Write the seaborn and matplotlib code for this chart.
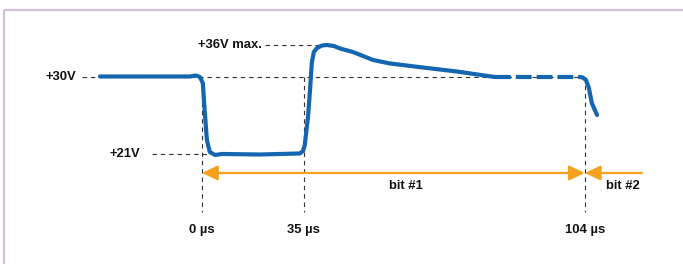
"""
plot.py - schematic of a serial bit waveform (voltage vs time)
"""

import matplotlib
matplotlib.use("Agg")
import matplotlib.pyplot as plt
import pandas as pd
import seaborn as sns

# schematic units: x in "µs" positions, y in "V" positions
wave_x = [-35.0, -17.8, -4.1, -2.1, -0.7, 0.3, 1.0, 1.7, 2.7, 4.5, 6.9, 19.9,
          33.6, 34.7, 35.3, 36.4, 37.1, 37.7, 38.4, 39.5, 41.2, 42.9, 45.3,
          47.4, 51.8, 55.3, 58.7, 64.5, 75.8, 87.5, 100.5]
wave_y = [30.06, 30.06, 30.06, 30.18, 30.0, 29.30, 25.79, 22.64, 21.23, 20.88,
          21.0, 20.94, 21.06, 21.35, 22.05, 25.32, 28.48, 31.64, 32.92, 33.39,
          33.68, 33.74, 33.62, 33.33, 32.92, 32.45, 31.99, 31.58, 31.11, 30.64,
          30.0]
dash_x = [100.5, 129.7]
dash_y = [30.0, 30.0]
tail_x = [129.7, 130.7, 131.8, 132.8, 133.8, 135.6]
tail_y = [30.0, 29.94, 29.65, 28.71, 26.96, 25.56]

# reference levels: label, level position, dashed line start/end, label anchor
levels = ["+30V", "+21V", "+36V max."]
level_y = [30.0, 21.0, 33.74]
level_x0 = [-41.2, -17.2, 21.5]
level_x1 = [131.4, 4.5, 42.2]
label_x = [-43.2, -21.3, 20.6]

# time markers
time_labels = ["0 µs", "35 µs", "104 µs"]
time_x = [0.0, 35.0, 131.4]

bit_labels = ["bit #1", "bit #2"]
bit_x = [70.0, 144.5]
bit2_end = 151.0

BLUE = "#1466b0"
ORANGE = "#f4a11d"
GREY = "#333333"
TEXT = "#111111"
FS = 9.4

sns.set_theme(style="white")
plt.rcParams["font.family"] = ["Liberation Sans", "DejaVu Sans"]

fig = plt.figure(figsize=(6.83, 2.64), dpi=100)
ax = fig.add_axes([0, 0, 1, 1])
ax.set_xlim(-69.3, 165.1)
ax.set_ylim(8.14, 39.0)
ax.axis("off")

# frame (only top and left edges are visible)
ax.plot([-67.9, 165.1], [37.83, 37.83], color="#d4bfdd", lw=1.6, solid_capstyle="butt")
ax.plot([-67.9, -67.9], [8.14, 37.83], color="#d4bfdd", lw=1.6, solid_capstyle="butt")

# reference dashed lines
for y, x0, x1 in zip(level_y, level_x0, level_x1):
    ax.plot([x0, x1], [y, y], color=GREY, lw=0.8, ls=(0, (4, 3.5)), zorder=1)
for x in time_x:
    ax.plot([x, x], [30.0, 14.22], color=GREY, lw=0.8, ls=(0, (4, 3.5)), zorder=1)

# waveform
sns.lineplot(data=pd.DataFrame({"t": wave_x, "v": wave_y}), x="t", y="v", sort=False,
             color=BLUE, lw=3, ax=ax, zorder=3)
ax.lines[-1].set_solid_capstyle("round")
ax.lines[-1].set_solid_joinstyle("round")
sns.lineplot(data=pd.DataFrame({"t": dash_x, "v": dash_y}), x="t", y="v", sort=False,
             color=BLUE, lw=3, ax=ax, zorder=3)
ax.lines[-1].set_linestyle((0, (3.8, 1.2)))
sns.lineplot(data=pd.DataFrame({"t": tail_x, "v": tail_y}), x="t", y="v", sort=False,
             color=BLUE, lw=3, ax=ax, zorder=3)
ax.lines[-1].set_solid_capstyle("round")
ax.lines[-1].set_solid_joinstyle("round")

# level labels
for name, y, x in zip(levels, level_y, label_x):
    ax.text(x, y, name, ha="right", va="center", fontsize=FS, fontweight="bold", color=TEXT)

# time labels
for name, x in zip(time_labels, time_x):
    ax.text(x, 12.12, name, ha="center", va="center", fontsize=FS, fontweight="bold", color=TEXT)

# bit arrows
arrow_y = 18.78
ax.annotate("", xy=(time_x[2], arrow_y), xytext=(time_x[0], arrow_y),
            arrowprops=dict(arrowstyle="<|-|>,head_length=0.95,head_width=0.45",
                            color=ORANGE, lw=1.6, shrinkA=0, shrinkB=0, mutation_scale=10))
ax.annotate("", xy=(time_x[2], arrow_y), xytext=(bit2_end, arrow_y),
            arrowprops=dict(arrowstyle="-|>,head_length=0.95,head_width=0.45",
                            color=ORANGE, lw=1.6, shrinkA=0, shrinkB=0, mutation_scale=10))
for name, x in zip(bit_labels, bit_x):
    ax.text(x, 17.3, name, ha="center", va="center", fontsize=FS, fontweight="bold", color=TEXT)

fig.savefig("out.png", dpi=100)
plt.close(fig)
